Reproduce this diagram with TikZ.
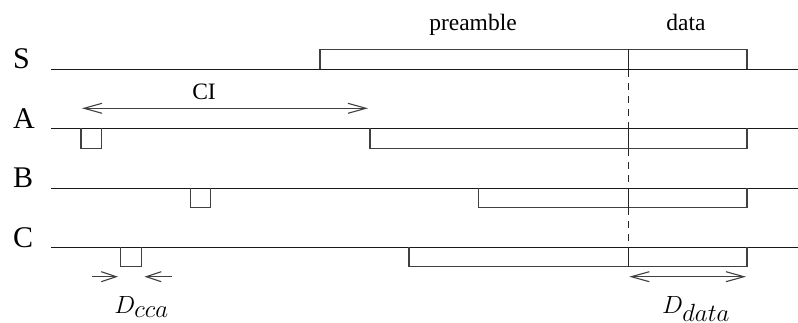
\documentclass[tikz,border=0pt]{standalone}
\usepackage{fontspec}
\setmainfont{Liberation Serif}
\usetikzlibrary{arrows.meta}
\begin{document}
\begin{tikzpicture}[x=1pt,y=-1pt,line width=1.1pt,
  sig/.style={draw=black!90},
  box/.style={draw=black!75},
  divline/.style={draw=black!85},
  dashline/.style={draw=black!85,dash pattern=on 7pt off 6pt},
  lab/.style={font=\fontsize{30}{30}\selectfont,anchor=base west,inner sep=0pt},
  txt/.style={font=\fontsize{23.5}{24}\selectfont,anchor=base,inner sep=0pt},
  mlab/.style={font=\fontsize{28}{28}\selectfont,anchor=base,inner sep=0pt},
  dimarrow/.style={draw=black!75,{Straight Barb[length=18pt,width=10pt]}-{Straight Barb[length=18pt,width=10pt]}},
  halfarrow/.style={draw=black!75,-{Straight Barb[length=15pt,width=10pt]}}]
\useasboundingbox (0,0) rectangle (798,323);
% labels
\node[lab] (lS) at (12.5,69) {S};
\node[lab] (lA) at (12.5,129) {A};
\node[lab] (lB) at (12.5,188) {B};
\node[lab] (lC) at (12.5,247.5) {C};
\node[txt] (tpre) at (473,30.5) {preamble};
\node[txt] (tdata) at (686,30.5) {data};
\node[txt] (tci) at (204,100) {CI};
\node[mlab] (tdcca) at (141.5,313.5) {$D_{\textstyle cca}$};
\node[mlab] (tddata) at (696,313) {$D_{\textstyle data}$};
% signal lines
\draw[sig] (51,69.3) -- (798,69.3);
\draw[sig] (51,128.3) -- (798,128.3);
\draw[sig] (51,188.3) -- (798,188.3);
\draw[sig] (51,247.3) -- (798,247.3);
% S frame (above line)
\draw[box] (320,69.3) |- (747,49.3) -- (747,69.3);
\draw[divline] (628.3,49.3) -- (628.3,69.3);
% A
\draw[box] (81,128.3) |- (101.3,148.3) -- (101.3,128.3);
\draw[box] (370,128.3) |- (747,148.3) -- (747,128.3);
\draw[divline] (628.3,128.3) -- (628.3,148.3);
% B
\draw[box] (190.3,188.3) |- (210.3,207.8) -- (210.3,188.3);
\draw[box] (478.3,188.3) |- (747,207.8) -- (747,188.3);
\draw[divline] (628.3,188.3) -- (628.3,207.8);
% C
\draw[box] (120.7,247.3) |- (141.3,266.9) -- (141.3,247.3);
\draw[box] (409,247.3) |- (747,266.9) -- (747,247.3);
\draw[divline] (628.3,247.3) -- (628.3,266.9);
% dashed alignment
\draw[dashline] (628.3,70) -- (628.3,128.3);
\draw[dashline] (628.3,149) -- (628.3,188.3);
\draw[dashline] (628.3,208.5) -- (628.3,247.3);
% dimension arrows
\coordinate (ciL) at (82,108.3);
\coordinate (ciR) at (368,108.3);
\draw[dimarrow] (ciL) -- (ciR);
\coordinate (ccaL0) at (91.5,276.7);
\coordinate (ccaL1) at (118,276.7);
\coordinate (ccaR0) at (171.7,276.7);
\coordinate (ccaR1) at (144.5,276.7);
\draw[halfarrow] (ccaL0) -- (ccaL1);
\draw[halfarrow] (ccaR0) -- (ccaR1);
\coordinate (ddL) at (629.3,276.7);
\coordinate (ddR) at (746,276.7);
\draw[dimarrow] (ddL) -- (ddR);
\end{tikzpicture}
\end{document}
